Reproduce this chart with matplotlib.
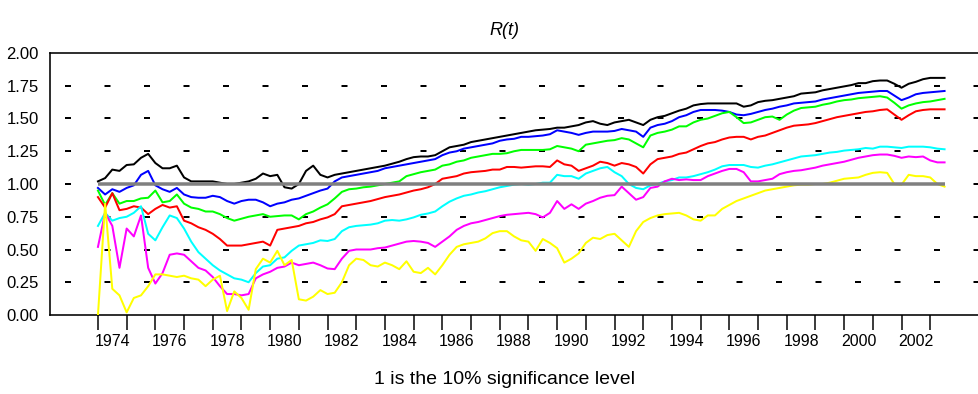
import numpy as np
import matplotlib
matplotlib.use("Agg")
import matplotlib.pyplot as plt

plt.rcParams["font.family"] = ["Liberation Sans", "DejaVu Sans"]
plt.rcParams["lines.scale_dashes"] = False

# quarterly observations, 1974.0 .. 2003.5
years = np.arange(1974.0, 2003.51, 0.25)

black = [1.02, 1.045, 1.11, 1.10, 1.145, 1.15, 1.20, 1.23, 1.16, 1.12, 1.12, 1.14,
         1.05, 1.02, 1.02, 1.02, 1.02, 1.01, 1.00, 1.00, 1.01, 1.02, 1.04, 1.08,
         1.06, 1.07, 0.975, 0.965, 1.00, 1.10, 1.14, 1.07, 1.05, 1.07, 1.08, 1.09,
         1.10, 1.11, 1.12, 1.13, 1.14, 1.155, 1.17, 1.19, 1.205, 1.21, 1.21, 1.22,
         1.25, 1.28, 1.29, 1.30, 1.32, 1.33, 1.34, 1.35, 1.36, 1.37, 1.38, 1.39,
         1.40, 1.41, 1.415, 1.42, 1.43, 1.43, 1.44, 1.45, 1.47, 1.48, 1.46, 1.45,
         1.47, 1.48, 1.49, 1.47, 1.45, 1.49, 1.51, 1.52, 1.54, 1.56, 1.575, 1.60,
         1.61, 1.615, 1.615, 1.615, 1.615, 1.615, 1.59, 1.60, 1.625, 1.635, 1.64, 1.65,
         1.66, 1.67, 1.69, 1.695, 1.70, 1.715, 1.725, 1.735, 1.745, 1.755, 1.77, 1.77,
         1.785, 1.79, 1.79, 1.765, 1.735, 1.765, 1.78, 1.80, 1.81, 1.81, 1.81]

blue = [0.97, 0.92, 0.96, 0.94, 0.97, 0.99, 1.07, 1.10, 0.99, 0.96, 0.94, 0.97,
        0.92, 0.90, 0.895, 0.895, 0.91, 0.90, 0.87, 0.85, 0.87, 0.88, 0.88, 0.86,
        0.83, 0.85, 0.86, 0.88, 0.89, 0.91, 0.93, 0.95, 0.965, 1.02, 1.05, 1.06,
        1.07, 1.08, 1.09, 1.10, 1.12, 1.13, 1.14, 1.15, 1.16, 1.17, 1.18, 1.19,
        1.22, 1.24, 1.25, 1.27, 1.28, 1.29, 1.30, 1.31, 1.33, 1.34, 1.345, 1.36,
        1.36, 1.365, 1.37, 1.38, 1.41, 1.40, 1.39, 1.375, 1.39, 1.40, 1.40, 1.40,
        1.405, 1.42, 1.41, 1.40, 1.36, 1.43, 1.45, 1.46, 1.48, 1.51, 1.525, 1.55,
        1.565, 1.565, 1.565, 1.56, 1.55, 1.53, 1.525, 1.535, 1.55, 1.565, 1.575, 1.59,
        1.60, 1.615, 1.62, 1.625, 1.63, 1.645, 1.655, 1.665, 1.675, 1.685, 1.695, 1.70,
        1.705, 1.71, 1.71, 1.675, 1.64, 1.66, 1.685, 1.695, 1.70, 1.705, 1.71]

green = [0.95, 0.84, 0.93, 0.85, 0.87, 0.87, 0.89, 0.895, 0.95, 0.86, 0.87, 0.92,
         0.85, 0.82, 0.81, 0.79, 0.79, 0.77, 0.74, 0.72, 0.735, 0.75, 0.76, 0.77,
         0.75, 0.755, 0.76, 0.76, 0.73, 0.77, 0.79, 0.82, 0.845, 0.89, 0.94, 0.96,
         0.965, 0.975, 0.98, 0.99, 1.00, 1.01, 1.02, 1.06, 1.075, 1.09, 1.10, 1.11,
         1.14, 1.15, 1.17, 1.18, 1.20, 1.21, 1.22, 1.23, 1.23, 1.235, 1.25, 1.26,
         1.26, 1.26, 1.26, 1.265, 1.29, 1.28, 1.27, 1.25, 1.30, 1.31, 1.32, 1.33,
         1.335, 1.35, 1.34, 1.31, 1.28, 1.37, 1.39, 1.40, 1.415, 1.44, 1.44, 1.47,
         1.49, 1.50, 1.52, 1.54, 1.55, 1.51, 1.465, 1.47, 1.49, 1.51, 1.515, 1.49,
         1.53, 1.56, 1.58, 1.585, 1.59, 1.605, 1.615, 1.63, 1.64, 1.645, 1.655, 1.66,
         1.665, 1.67, 1.66, 1.62, 1.575, 1.60, 1.615, 1.625, 1.63, 1.64, 1.65]

red = [0.90, 0.82, 0.93, 0.80, 0.81, 0.83, 0.82, 0.77, 0.81, 0.84, 0.82, 0.83,
       0.72, 0.70, 0.67, 0.65, 0.62, 0.58, 0.53, 0.53, 0.53, 0.54, 0.55, 0.56,
       0.53, 0.65, 0.66, 0.67, 0.68, 0.70, 0.71, 0.73, 0.745, 0.77, 0.83, 0.84,
       0.85, 0.86, 0.87, 0.885, 0.90, 0.91, 0.92, 0.935, 0.95, 0.96, 0.975, 1.00,
       1.04, 1.05, 1.06, 1.08, 1.09, 1.095, 1.10, 1.11, 1.11, 1.13, 1.13, 1.125,
       1.13, 1.135, 1.135, 1.13, 1.18, 1.15, 1.14, 1.10, 1.12, 1.14, 1.17, 1.16,
       1.14, 1.16, 1.15, 1.13, 1.08, 1.15, 1.19, 1.20, 1.21, 1.23, 1.24, 1.265,
       1.29, 1.31, 1.32, 1.34, 1.355, 1.36, 1.36, 1.34, 1.36, 1.37, 1.39, 1.41,
       1.43, 1.445, 1.45, 1.455, 1.465, 1.48, 1.495, 1.51, 1.52, 1.53, 1.54, 1.55,
       1.555, 1.565, 1.57, 1.53, 1.49, 1.525, 1.555, 1.565, 1.57, 1.57, 1.57]

cyan = [0.68, 0.78, 0.72, 0.74, 0.75, 0.78, 0.83, 0.62, 0.57, 0.67, 0.76, 0.74,
        0.66, 0.56, 0.48, 0.43, 0.38, 0.34, 0.31, 0.28, 0.27, 0.25, 0.32, 0.37,
        0.38, 0.43, 0.44, 0.49, 0.53, 0.54, 0.55, 0.57, 0.565, 0.58, 0.64, 0.67,
        0.68, 0.685, 0.69, 0.70, 0.72, 0.725, 0.72, 0.73, 0.745, 0.765, 0.775, 0.79,
        0.83, 0.865, 0.89, 0.91, 0.92, 0.935, 0.945, 0.96, 0.975, 0.985, 0.995, 1.00,
        0.995, 1.00, 1.01, 1.01, 1.07, 1.06, 1.06, 1.04, 1.08, 1.10, 1.12, 1.13,
        1.09, 1.06, 1.00, 0.97, 0.96, 0.99, 1.00, 1.02, 1.03, 1.05, 1.05, 1.06,
        1.075, 1.09, 1.11, 1.135, 1.145, 1.145, 1.145, 1.13, 1.125, 1.14, 1.15, 1.165,
        1.18, 1.195, 1.21, 1.215, 1.22, 1.23, 1.24, 1.245, 1.255, 1.26, 1.265, 1.275,
        1.27, 1.285, 1.285, 1.28, 1.275, 1.285, 1.285, 1.285, 1.28, 1.27, 1.265]

magenta = [0.52, 0.78, 0.68, 0.36, 0.66, 0.60, 0.76, 0.36, 0.24, 0.32, 0.46, 0.47,
           0.46, 0.41, 0.36, 0.34, 0.29, 0.22, 0.16, 0.16, 0.15, 0.16, 0.28, 0.31,
           0.33, 0.36, 0.37, 0.40, 0.38, 0.39, 0.40, 0.38, 0.355, 0.35, 0.43, 0.49,
           0.50, 0.50, 0.50, 0.51, 0.515, 0.53, 0.545, 0.56, 0.565, 0.56, 0.55, 0.52,
           0.56, 0.60, 0.65, 0.68, 0.70, 0.71, 0.725, 0.74, 0.755, 0.765, 0.77, 0.775,
           0.78, 0.77, 0.745, 0.78, 0.87, 0.81, 0.845, 0.81, 0.85, 0.87, 0.895, 0.91,
           0.915, 0.98, 0.93, 0.88, 0.90, 0.97, 0.98, 1.02, 1.04, 1.03, 1.035, 1.03,
           1.03, 1.06, 1.08, 1.10, 1.115, 1.115, 1.09, 1.02, 1.02, 1.03, 1.04, 1.075,
           1.09, 1.10, 1.105, 1.115, 1.125, 1.14, 1.15, 1.16, 1.17, 1.185, 1.20, 1.21,
           1.22, 1.225, 1.225, 1.215, 1.20, 1.21, 1.205, 1.21, 1.18, 1.165, 1.165]

yellow = [0.00, 0.85, 0.20, 0.15, 0.02, 0.13, 0.15, 0.22, 0.31, 0.31, 0.30, 0.29,
          0.30, 0.28, 0.27, 0.22, 0.27, 0.30, 0.03, 0.18, 0.13, 0.04, 0.35, 0.43,
          0.40, 0.49, 0.38, 0.42, 0.12, 0.11, 0.14, 0.19, 0.16, 0.17, 0.25, 0.38,
          0.43, 0.42, 0.38, 0.37, 0.40, 0.38, 0.35, 0.41, 0.33, 0.32, 0.36, 0.31,
          0.38, 0.46, 0.52, 0.54, 0.55, 0.56, 0.585, 0.625, 0.64, 0.64, 0.60, 0.57,
          0.56, 0.49, 0.58, 0.55, 0.51, 0.40, 0.43, 0.47, 0.55, 0.59, 0.58, 0.61,
          0.62, 0.57, 0.52, 0.64, 0.71, 0.74, 0.76, 0.77, 0.775, 0.78, 0.76, 0.73,
          0.72, 0.76, 0.76, 0.81, 0.84, 0.87, 0.89, 0.91, 0.93, 0.95, 0.96, 0.97,
          0.98, 0.99, 0.995, 0.995, 1.00, 1.00, 1.01, 1.025, 1.04, 1.045, 1.05, 1.07,
          1.085, 1.09, 1.085, 1.00, 0.995, 1.07, 1.06, 1.06, 1.05, 1.00, 0.98]

series = [black, blue, green, red, cyan, magenta, yellow]
colors = ["#000000", "#0000ff", "#00ff00", "#ff0000", "#00ffff", "#ff00ff", "#ffff00"]

yticks = [0.0, 0.25, 0.5, 0.75, 1.0, 1.25, 1.5, 1.75, 2.0]
label_years = list(range(1974, 2003, 2))

fig = plt.figure(figsize=(9.79, 3.94), dpi=100)
ax = fig.add_axes([0.0511, 0.2005, 0.9489, 0.665])

# sparse dashed grid
px = 0.72
for y in yticks[1:-1]:
    ax.axhline(y, color="black", lw=2 * px, zorder=1,
               linestyle=(24.5 * px, (6 * px, 33.5 * px)))

for vals, c in zip(series, colors):
    ax.plot(years, vals, color=c, lw=2 * px, zorder=3)

ax.hlines(1.0, years[0], years[-1], color="#808080", lw=3.5 * px, zorder=5)

ax.set_xlim(1972.33, 2004.70)
ax.set_ylim(0, 2.0)

ax.set_yticks(yticks)
ax.set_yticklabels(["%.2f" % v for v in yticks])
ax.tick_params(axis="y", length=0, pad=8, labelsize=12)

ax.set_xticks(range(1974, 2004))
ax.set_xticklabels([])
ax.tick_params(axis="x", which="major", direction="out", length=11, width=1.5 * px)
ax.set_xticks([yr + 0.5 for yr in label_years], minor=True)
ax.set_xticklabels([str(yr) for yr in label_years], minor=True)
ax.tick_params(axis="x", which="minor", length=0, pad=14, labelsize=11.5)

for s in ["left", "bottom", "top"]:
    ax.spines[s].set_linewidth(1.6 * px)
ax.spines["right"].set_visible(False)

ax.set_title("R(t)", style="italic", fontsize=13, x=0.489, pad=13)
ax.set_xlabel("1 is the 10% significance level", fontsize=14)
ax.xaxis.set_label_coords(0.489, -0.215)

fig.savefig("out.png", dpi=100)
